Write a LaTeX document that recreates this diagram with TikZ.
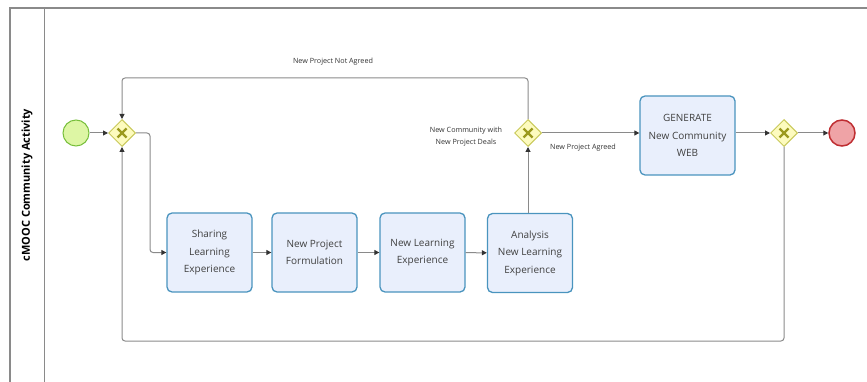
\documentclass[tikz,border=0pt]{standalone}
\usepackage{fontspec}
\setmainfont{Open Sans}
\usetikzlibrary{shapes.geometric,arrows.meta}
\definecolor{linegray}{HTML}{8A8A8A}
\definecolor{taskfill}{HTML}{E9EFFC}
\definecolor{taskdraw}{HTML}{4A94BE}
\definecolor{gwfill}{HTML}{FDFBBE}
\definecolor{gwdraw}{HTML}{C9C95A}
\definecolor{gwx}{HTML}{9C9A1E}
\definecolor{startfill}{HTML}{DDF6A4}
\definecolor{startdraw}{HTML}{78BF3C}
\definecolor{endfill}{HTML}{EFA3A6}
\definecolor{enddraw}{HTML}{BF2E32}
\tikzset{
  task/.style={draw=taskdraw, fill=taskfill, line width=1.3pt, rounded corners=5pt,
    minimum width=85pt, minimum height=79pt, align=center, font=\fontsize{10}{17.5}\selectfont, text=black!75, inner sep=0pt},
  gateway/.style={diamond, draw=gwdraw, fill=gwfill, line width=1pt, minimum width=27pt, minimum height=27pt, inner sep=0pt},
  startev/.style={circle, draw=startdraw, fill=startfill, line width=1pt, minimum size=26pt, inner sep=0pt},
  endev/.style={circle, draw=enddraw, fill=endfill, line width=1.5pt, minimum size=26pt, inner sep=0pt},
  flow/.style={draw=linegray, line width=1pt, rounded corners=3pt, -{Triangle[length=5pt,width=5pt,fill=black!80,color=black!80]}},
  lbl/.style={font=\fontsize{7.2}{12.5}\selectfont, text=black!80, align=center},
}
\newcommand{\gwcross}[1]{%
  \draw[gwx, line width=2.4pt] ([shift={(-4.5pt,-4.5pt)}]#1.center) -- ([shift={(4.5pt,4.5pt)}]#1.center);
  \draw[gwx, line width=2.4pt] ([shift={(-4.5pt,4.5pt)}]#1.center) -- ([shift={(4.5pt,-4.5pt)}]#1.center);}
\begin{document}
\begin{tikzpicture}[x=1pt,y=-1pt]
\useasboundingbox (0,0) rectangle (867,382);
% pool
\draw[linegray, line width=1.2pt] (10,382) -- (10,8) -- (867,8);
\draw[linegray, line width=1pt] (44,8) -- (44,382);
\node[rotate=90, font=\bfseries\fontsize{11}{12}\selectfont] (lane) at (27,185) {cMOOC Community Activity};
% nodes
\node[startev] (start) at (76,133) {};
\node[gateway] (g1) at (122,133) {};
\node[task] (t1) at (209.5,252.5) {Sharing\\Learning\\Experience};
\node[task] (t2) at (314.5,252.5) {New Project\\Formulation};
\node[task] (t3) at (422.5,252.5) {New Learning\\Experience};
\node[task] (t4) at (530,253) {Analysis\\New Learning\\Experience};
\node[gateway] (g2) at (528,133) {};
\node[task, minimum width=95pt] (t5) at (687.5,135.5) {GENERATE\\New Community\\WEB};
\node[gateway] (g3) at (784,133) {};
\node[endev] (end) at (842,133) {};
\gwcross{g1}\gwcross{g2}\gwcross{g3}
% flows
\draw[flow] (start) -- (g1);
\draw[flow] (g1.east) -- (150,133) -- (150,252.5) -- (t1.west);
\draw[flow] (t1) -- (t2);
\draw[flow] (t2) -- (t3);
\draw[flow] (t3) -- (t4);
\draw[flow] (t4.north -| g2) -- (g2.south);
\draw[flow] (g2.north) -- (528,78) -- (122,78) -- (g1.north);
\draw[flow] (g2) -- (t5.west |- g2);
\draw[flow] (t5.east |- g3) -- (g3);
\draw[flow] (g3) -- (end);
\draw[flow] (g3.south) -- (784,341) -- (122,341) -- (g1.south);
% labels
\node[lbl] (l1) at (333,62) {New Project Not Agreed};
\node[lbl] (l2) at (466,136.5) {New Community with\\New Project Deals};
\node[lbl] (l3) at (583,148) {New Project Agreed};
\end{tikzpicture}
\end{document}
